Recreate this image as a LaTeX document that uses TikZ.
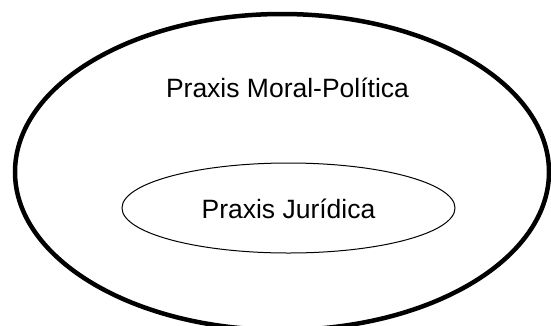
\documentclass[tikz,border=0pt]{standalone}
\usepackage{fontspec}
\setmainfont{Liberation Sans}
\usetikzlibrary{shapes.geometric}
\tikzset{
  outerell/.style={ellipse, draw=black, line width=4.5pt, inner sep=0pt, minimum width=534pt, minimum height=316pt},
  innerell/.style={ellipse, draw=black, line width=1pt, inner sep=0pt, minimum width=333pt, minimum height=90pt},
  lbl/.style={anchor=base, inner sep=0pt, font=\fontsize{26.5pt}{30pt}\selectfont}
}
\begin{document}
\begin{tikzpicture}[x=1pt,y=-1pt]
\useasboundingbox (0,0) rectangle (551,325);
\node[outerell] (outer) at (282,172) {};
\node[innerell] (inner) at (288.5,208) {};
\node[lbl] (moral) at (287.5,97) {Praxis Moral-Política};
\node[lbl] (jur) at (288.5,218) {Praxis Jurídica};
\end{tikzpicture}
\end{document}
